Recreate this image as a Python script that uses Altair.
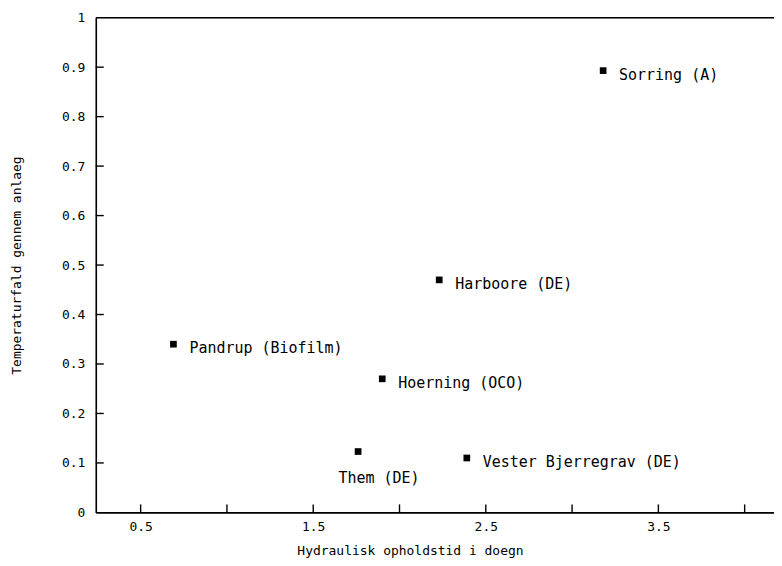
import altair as alt
import pandas as pd

names = ["Sorring (A)", "Harboore (DE)", "Pandrup (Biofilm)", "Hoerning (OCO)", "Them (DE)", "Vester Bjerregrav (DE)"]
opholdstid = [3.18, 2.23, 0.69, 1.90, 1.76, 2.39]
temperaturfald = [0.893, 0.47, 0.34, 0.27, 0.123, 0.11]

x_labels = [0.5, 1.5, 2.5, 3.5]
x_ticks = [0.5, 1.0, 1.5, 2.0, 2.5, 3.0, 3.5, 4.0]
y_ticks = [0.1, 0.2, 0.3, 0.4, 0.5, 0.6, 0.7, 0.8, 0.9]
y_labels = [0, 0.1, 0.2, 0.3, 0.4, 0.5, 0.6, 0.7, 0.8, 0.9, 1]

df = pd.DataFrame({"name": names, "x": opholdstid, "y": temperaturfald})
xt = pd.DataFrame({"v": x_ticks})
yt = pd.DataFrame({"v": y_ticks})

FONT = "DejaVu Sans Mono"
W, H = 680, 496

xscale = alt.Scale(domain=[0.24, 4.17], nice=False, zero=False)
yscale = alt.Scale(domain=[0, 1], nice=False)

xaxis = alt.Axis(values=x_labels, ticks=False, grid=False, domainColor="black", domainWidth=1.6,
                 labelFont=FONT, labelFontSize=13, labelColor="black", labelPadding=8,
                 title="Hydraulisk opholdstid i doegn", titleFont=FONT, titleFontSize=13,
                 titleFontWeight="normal", titleColor="black", titlePadding=11,
                 titleX=315, titleAnchor="middle", labelFlush=False)
yaxis = alt.Axis(values=y_labels, ticks=False, grid=False, domainColor="black", domainWidth=1.6,
                 format="~g", labelFont=FONT, labelFontSize=13, labelColor="black", labelPadding=11,
                 title="Temperaturfald gennem anlaeg", titleFont=FONT, titleFontSize=13,
                 titleFontWeight="normal", titleColor="black", titlePadding=38, labelFlush=False)

base = alt.Chart(df)

points = base.mark_square(size=45, color="black", opacity=1).encode(
    x=alt.X("x:Q", scale=xscale, axis=xaxis),
    y=alt.Y("y:Q", scale=yscale, axis=yaxis),
)

labels_right = base.transform_filter(alt.datum.name != "Them (DE)").mark_text(
    align="left", baseline="middle", dx=16, dy=4, font=FONT, fontSize=15, color="black"
).encode(x=alt.X("x:Q", scale=xscale), y=alt.Y("y:Q", scale=yscale), text="name:N")

labels_below = base.transform_filter(alt.datum.name == "Them (DE)").mark_text(
    align="center", baseline="middle", dx=21, dy=27, font=FONT, fontSize=15, color="black"
).encode(x=alt.X("x:Q", scale=xscale), y=alt.Y("y:Q", scale=yscale), text="name:N")

x_tick_marks = alt.Chart(xt).mark_rule(color="black", strokeWidth=1.4).encode(
    x=alt.X("v:Q", scale=xscale), y=alt.value(H), y2=alt.value(H - 8)
)
y_tick_marks = alt.Chart(yt).mark_rule(color="black", strokeWidth=1.4).encode(
    y=alt.Y("v:Q", scale=yscale), x=alt.value(0), x2=alt.value(8)
)
top_line = alt.Chart(pd.DataFrame({"v": [1]})).mark_rule(color="black", strokeWidth=1.6).encode(
    y=alt.Y("v:Q", scale=yscale), x=alt.value(0), x2=alt.value(W)
)

chart = alt.layer(points, labels_right, labels_below, x_tick_marks, y_tick_marks, top_line).properties(
    width=W, height=H, autosize=alt.AutoSizeParams(type="none"),
    padding={"left": 88, "top": 9, "right": 0, "bottom": 45}
).configure_view(stroke=None).configure(background="white")

chart.save("out.html", embed_options={"renderer": "svg", "actions": False})
